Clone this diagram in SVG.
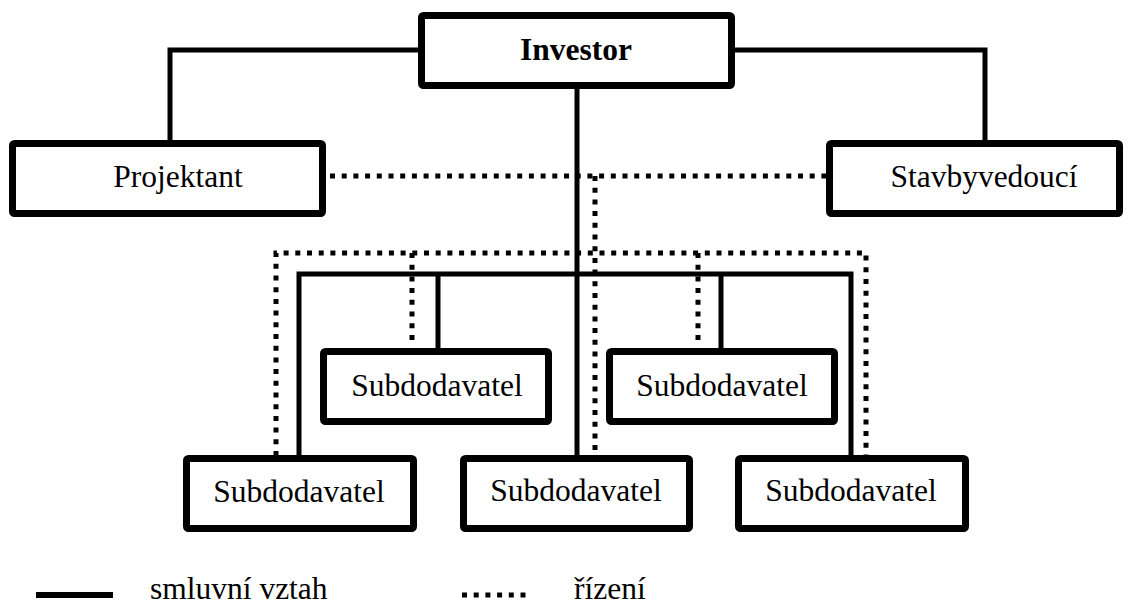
<svg xmlns="http://www.w3.org/2000/svg" width="1131" height="605" viewBox="0 0 1131 605">
<style>
.box{fill:#fff;stroke:#000;stroke-width:7;stroke-linejoin:round}
.t{font-family:"Liberation Serif","Times New Roman",Times,serif;font-size:31.5px;fill:#000;text-anchor:middle}
.b{font-weight:bold}
.solid{fill:none;stroke:#000;stroke-width:5;stroke-linejoin:miter}
.dot{fill:none;stroke:#000;stroke-width:5;stroke-dasharray:5 6.7}
.lt{font-family:"Liberation Serif","Times New Roman",Times,serif;font-size:31.5px;fill:#000}
</style>
<rect width="1131" height="605" fill="#fff"/>
<g id="connectors">
<path class="solid" d="M170,141 V50 H419"/>
<path class="solid" d="M734,50 H985 V141"/>
<path class="solid" d="M577,88 V456"/>
<path class="solid" d="M299,456 V274 H851 V456"/>
<path class="solid" d="M438,274 V349"/>
<path class="solid" d="M721,274 V349"/>
<path class="dot" d="M330,176 H826"/>
<path class="dot" d="M595,176 V456"/>
<path class="dot" d="M276,456 V253 H866 V456"/>
<path class="dot" d="M412,253 V342"/>
<path class="dot" d="M698,253 V342"/>
</g>
<g id="investor"><rect class="box" x="421.5" y="15.5" width="310" height="70" rx="2"/><text class="t b" x="576" y="60">Investor</text></g>
<g id="projektant"><rect class="box" x="12.5" y="143.5" width="310" height="70" rx="2"/><text class="t" x="178" y="187">Projektant</text></g>
<g id="stavbyvedouci"><rect class="box" x="829.5" y="143.5" width="290" height="70" rx="2"/><text class="t" x="984" y="187">Stavbyvedoucí</text></g>
<g id="sub-upper-left"><rect class="box" x="323.5" y="351.5" width="225" height="70" rx="2"/><text class="t" x="437" y="396">Subdodavatel</text></g>
<g id="sub-upper-right"><rect class="box" x="609.5" y="351.5" width="225" height="70" rx="2"/><text class="t" x="722" y="396">Subdodavatel</text></g>
<g id="sub-bottom-left"><rect class="box" x="186.5" y="458.5" width="227" height="70" rx="2"/><text class="t" x="299" y="502">Subdodavatel</text></g>
<g id="sub-bottom-middle"><rect class="box" x="463.5" y="458.5" width="226" height="70" rx="2"/><text class="t" x="576" y="501">Subdodavatel</text></g>
<g id="sub-bottom-right"><rect class="box" x="738.5" y="458.5" width="227" height="70" rx="2"/><text class="t" x="851" y="501">Subdodavatel</text></g>
<g id="legend">
<line x1="36" y1="595" x2="113" y2="595" stroke="#000" stroke-width="6"/>
<text class="lt" x="150" y="599">smluvní vztah</text>
<line x1="462" y1="595" x2="530" y2="595" stroke="#000" stroke-width="5" stroke-dasharray="5 6.7"/>
<text class="lt" x="574" y="599">řízení</text>
</g>
</svg>
